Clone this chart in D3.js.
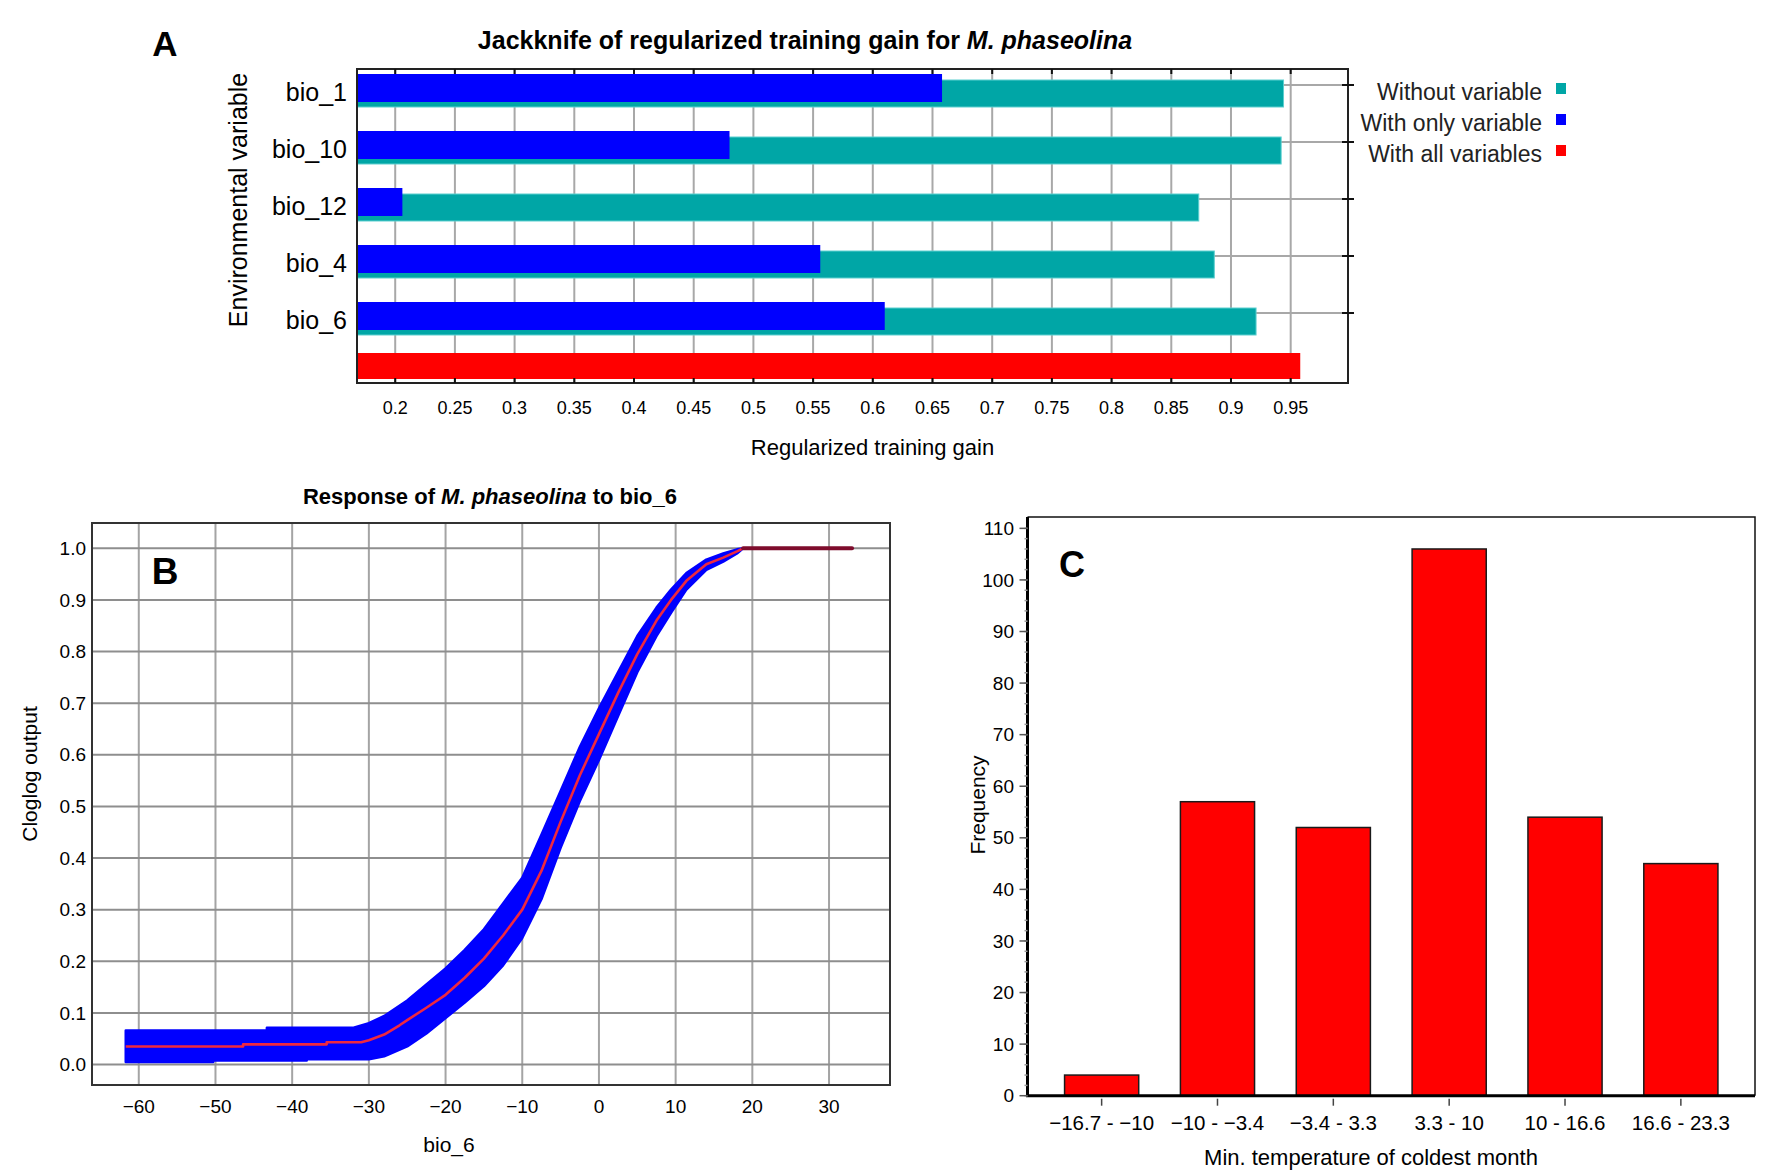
<!DOCTYPE html>
<html>
<head>
<meta charset="utf-8">
<script src="https://cdn.jsdelivr.net/npm/d3@7"></script>
<style>
  body { margin: 0; background: #fff; }
  svg { display: block; font-family: "Liberation Sans", Arial, sans-serif; }
</style>
</head>
<body>
<div id="chart"></div>
<script>
// ---- panel A : jackknife ----
const jkVars = ["bio_1", "bio_10", "bio_12", "bio_4", "bio_6"];
const gainWithout = [0.944, 0.942, 0.873, 0.886, 0.921];
const gainOnly = [0.658, 0.480, 0.206, 0.556, 0.610];
const gainAll = 0.958;
const gainTicks = [0.2, 0.25, 0.3, 0.35, 0.4, 0.45, 0.5, 0.55, 0.6, 0.65, 0.7, 0.75, 0.8, 0.85, 0.9, 0.95];
const legendLabels = ["Without variable", "With only variable", "With all variables"];

// ---- panel B : response curve (mean, mean +/- sd) ----
const respMean = [[-61.7,0.035],[-46.4,0.035],[-46.4,0.039],[-35.5,0.039],[-35.5,0.043],[-31,0.043],
  [-30,0.047],[-28,0.058],[-26,0.076],[-25,0.086],[-22.5,0.11],[-20,0.135],[-17.5,0.168],[-15,0.205],
  [-12.5,0.25],[-10,0.30],[-7.5,0.375],[-5,0.47],[-2.5,0.56],[0,0.64],[2.5,0.72],[5,0.795],[7.5,0.86],
  [9.4,0.90],[11.4,0.937],[14,0.969],[16.2,0.982],[18,0.994],[18.8,1.0],[33,1.0]];
const respUpper = [[-61.7,0.066],[-43.3,0.066],[-43.3,0.071],[-32.1,0.071],[-30,0.08],[-28,0.094],
  [-25,0.124],[-22.5,0.155],[-20,0.186],[-17.5,0.222],[-15,0.262],[-12.5,0.312],[-10,0.362],
  [-7.5,0.445],[-5,0.53],[-2.5,0.615],[0,0.69],[2.5,0.76],[5,0.83],[7.5,0.885],[9.4,0.92],
  [11.4,0.952],[14,0.978],[16.2,0.99],[18,0.998],[18.8,1.0],[33,1.0]];
const respLower = [[-61.7,0.005],[-50.3,0.005],[-50.3,0.008],[-38.1,0.008],[-38.1,0.010],[-30,0.010],
  [-28,0.016],[-25,0.035],[-22.5,0.06],[-20,0.09],[-17.5,0.12],[-15,0.152],[-12.5,0.192],[-10,0.245],
  [-7.5,0.32],[-5,0.42],[-2.5,0.51],[0,0.59],[2.5,0.675],[5,0.76],[7.5,0.83],[9.4,0.875],
  [11.4,0.92],[14,0.958],[16.2,0.974],[18,0.99],[18.8,1.0]];
const bioTicks = [-60, -50, -40, -30, -20, -10, 0, 10, 20, 30];
const clogTicks = [0, 0.1, 0.2, 0.3, 0.4, 0.5, 0.6, 0.7, 0.8, 0.9, 1.0];

// ---- panel C : histogram ----
const tempBins = ["\u221216.7 - \u221210", "\u221210 - \u22123.4", "\u22123.4 - 3.3", "3.3 - 10", "10 - 16.6", "16.6 - 23.3"];
const freq = [4, 57, 52, 106, 54, 45];
const freqTicks = d3.range(0, 111, 10);
const freqMinor = d3.range(0, 111, 2);

const W = 1772, H = 1173;
const svg = d3.select("#chart").append("svg")
  .attr("width", W).attr("height", H)
  .attr("viewBox", [0, 0, W, H]);

/* ================= A ================= */
const aBox = { x0: 357, x1: 1348, y0: 69, y1: 383 };
const xA = d3.scaleLinear().domain([0.168, 0.998]).range([aBox.x0, aBox.x1]);
const yA = d3.scaleBand().domain([...jkVars, "all"]).range([62.5, 404.5]);
const colA = { without: "#00a6a6", only: "#0000ff", all: "#ff0000" };

const gA = svg.append("g");

gA.append("g").selectAll("line").data(gainTicks).join("line")
  .attr("x1", d => xA(d)).attr("x2", d => xA(d))
  .attr("y1", aBox.y0).attr("y2", aBox.y1)
  .attr("stroke", "#a8a8a8").attr("stroke-width", 2);

gA.append("g").selectAll("line").data(jkVars).join("line")
  .attr("x1", aBox.x0).attr("x2", aBox.x1)
  .attr("y1", d => yA(d) + 22.5).attr("y2", d => yA(d) + 22.5)
  .attr("stroke", "#a8a8a8").attr("stroke-width", 2);

gA.append("g").selectAll("rect").data(jkVars).join("rect")
  .attr("x", aBox.x0).attr("y", d => yA(d) + 17.5)
  .attr("width", (d, i) => xA(gainWithout[i]) - aBox.x0).attr("height", 27)
  .attr("fill", colA.without).attr("stroke", "#5ccfcf").attr("stroke-width", 1);

gA.append("g").selectAll("rect").data(jkVars).join("rect")
  .attr("x", aBox.x0).attr("y", d => yA(d) + 11.5)
  .attr("width", (d, i) => xA(gainOnly[i]) - aBox.x0).attr("height", 28)
  .attr("fill", colA.only);

gA.append("rect")
  .attr("x", aBox.x0).attr("y", yA("all") + 5.5)
  .attr("width", xA(gainAll) - aBox.x0).attr("height", 26)
  .attr("fill", colA.all);

gA.append("rect")
  .attr("x", aBox.x0).attr("y", aBox.y0)
  .attr("width", aBox.x1 - aBox.x0).attr("height", aBox.y1 - aBox.y0)
  .attr("fill", "none").attr("stroke", "#222").attr("stroke-width", 2);

// small ticks on top / bottom / right edges
gA.append("g").selectAll("path").data(gainTicks).join("path")
  .attr("d", d => `M${xA(d)},${aBox.y0}v5M${xA(d)},${aBox.y1}v-5`)
  .attr("stroke", "#111").attr("stroke-width", 2);
gA.append("g").selectAll("line").data(jkVars).join("line")
  .attr("x1", aBox.x1 - 6).attr("x2", aBox.x1 + 6)
  .attr("y1", d => yA(d) + 22.5).attr("y2", d => yA(d) + 22.5)
  .attr("stroke", "#111").attr("stroke-width", 2);

gA.append("g").selectAll("text").data(gainTicks).join("text")
  .attr("x", d => xA(d)).attr("y", 414)
  .attr("text-anchor", "middle").attr("font-size", 18)
  .text(d => String(+d.toFixed(2)));

gA.append("g").selectAll("text").data(jkVars).join("text")
  .attr("x", 347).attr("y", d => yA(d) + 30).attr("dy", "0.35em")
  .attr("text-anchor", "end").attr("font-size", 25)
  .text(d => d);

gA.append("text")
  .attr("transform", "translate(238,200) rotate(-90)").attr("dy", "0.35em")
  .attr("text-anchor", "middle").attr("font-size", 25)
  .text("Environmental variable");

gA.append("text")
  .attr("x", (aBox.x0 + aBox.x1) / 2 + 20).attr("y", 455)
  .attr("text-anchor", "middle").attr("font-size", 22)
  .text("Regularized training gain");

const titleA = gA.append("text")
  .attr("x", 805).attr("y", 49)
  .attr("text-anchor", "middle").attr("font-size", 25).attr("font-weight", "bold");
titleA.append("tspan").text("Jackknife of regularized training gain for ");
titleA.append("tspan").attr("font-style", "italic").text("M. phaseolina");

gA.append("text").attr("x", 165).attr("y", 56)
  .attr("text-anchor", "middle").attr("font-size", 35).attr("font-weight", "bold").text("A");

const legCols = [colA.without, colA.only, colA.all];
const leg = gA.append("g").selectAll("g").data(legendLabels).join("g")
  .attr("transform", (d, i) => `translate(0,${92 + i * 31})`);
leg.append("text").attr("x", 1542).attr("dy", "0.35em")
  .attr("text-anchor", "end").attr("font-size", 23).attr("fill", "#222").text(d => d);
leg.append("rect").attr("x", 1556).attr("y", -9).attr("width", 10).attr("height", 11)
  .attr("fill", (d, i) => legCols[i]);

/* ================= B ================= */
const bBox = { x0: 92, x1: 890, y0: 523, y1: 1085 };
const xB = d3.scaleLinear().domain([-66.1, 37.95]).range([bBox.x0, bBox.x1]);
const yB = d3.scaleLinear().domain([-0.0397, 1.049]).range([bBox.y1, bBox.y0]);
const gB = svg.append("g");

gB.append("g").selectAll("line").data(bioTicks).join("line")
  .attr("x1", d => xB(d)).attr("x2", d => xB(d))
  .attr("y1", bBox.y0).attr("y2", bBox.y1)
  .attr("stroke", "#a4a4a4").attr("stroke-width", 2);
gB.append("g").selectAll("line").data(clogTicks).join("line")
  .attr("x1", bBox.x0).attr("x2", bBox.x1)
  .attr("y1", d => yB(d)).attr("y2", d => yB(d))
  .attr("stroke", "#8e8e8e").attr("stroke-width", 2);

const lineB = d3.line().x(d => xB(d[0])).y(d => yB(d[1]));
gB.append("path")
  .attr("d", lineB(respUpper.concat(respLower.slice().reverse())) + "Z")
  .attr("fill", "#0000ff").attr("stroke", "#0000ff").attr("stroke-width", 2.5)
  .attr("stroke-linejoin", "round");
gB.append("path")
  .attr("d", lineB(respMean))
  .attr("fill", "none").attr("stroke", "#ee2840").attr("stroke-width", 2.6)
  .attr("stroke-linejoin", "round");
// where the band has collapsed (last lower point onwards) the curve shows dark red
const collapseX = respLower[respLower.length - 1][0];
gB.append("path")
  .attr("d", lineB(respMean.filter(d => d[0] >= collapseX)))
  .attr("fill", "none").attr("stroke", "#7e0c2c").attr("stroke-width", 4)
  .attr("stroke-linecap", "round");

gB.append("rect")
  .attr("x", bBox.x0).attr("y", bBox.y0)
  .attr("width", bBox.x1 - bBox.x0).attr("height", bBox.y1 - bBox.y0)
  .attr("fill", "none").attr("stroke", "#333").attr("stroke-width", 2);

gB.append("g").selectAll("text").data(bioTicks).join("text")
  .attr("x", d => xB(d)).attr("y", 1113)
  .attr("text-anchor", "middle").attr("font-size", 19)
  .text(d => d3.format("d")(d));
gB.append("g").selectAll("text").data(clogTicks).join("text")
  .attr("x", 86).attr("y", d => yB(d)).attr("dy", "0.35em")
  .attr("text-anchor", "end").attr("font-size", 19)
  .text(d => d3.format(".1f")(d));

const titleB = gB.append("text")
  .attr("x", 490).attr("y", 504)
  .attr("text-anchor", "middle").attr("font-size", 22).attr("font-weight", "bold");
titleB.append("tspan").text("Response of ");
titleB.append("tspan").attr("font-style", "italic").text("M. phaseolina");
titleB.append("tspan").text(" to bio_6");

gB.append("text").attr("x", 165).attr("y", 584)
  .attr("text-anchor", "middle").attr("font-size", 37).attr("font-weight", "bold").text("B");
gB.append("text").attr("x", 449).attr("y", 1152)
  .attr("text-anchor", "middle").attr("font-size", 21).text("bio_6");
gB.append("text")
  .attr("transform", "translate(30,774) rotate(-90)").attr("dy", "0.35em")
  .attr("text-anchor", "middle").attr("font-size", 21).text("Cloglog output");

/* ================= C ================= */
const cBox = { x0: 1027.5, x1: 1755, y0: 517, y1: 1095.7 };
const xC = d3.scaleBand().domain(tempBins).range([cBox.x0, cBox.x1])
  .paddingInner(0.36).paddingOuter(0.32);
const yC = d3.scaleLinear().domain([0, 112.2]).range([cBox.y1, cBox.y0]);
const gC = svg.append("g");

gC.append("g").selectAll("rect").data(tempBins).join("rect")
  .attr("x", d => xC(d)).attr("width", xC.bandwidth())
  .attr("y", (d, i) => yC(freq[i])).attr("height", (d, i) => yC(0) - yC(freq[i]))
  .attr("fill", "#ff0000").attr("stroke", "#1a1a1a").attr("stroke-width", 1.5);

gC.append("path")
  .attr("d", `M${cBox.x0},${cBox.y0}H${cBox.x1}V${cBox.y1}`)
  .attr("fill", "none").attr("stroke", "#111").attr("stroke-width", 1.5);
gC.append("path")
  .attr("d", `M${cBox.x0},${cBox.y0}V${cBox.y1}H${cBox.x1}`)
  .attr("fill", "none").attr("stroke", "#000").attr("stroke-width", 3);

gC.append("g").selectAll("line").data(freqMinor).join("line")
  .attr("x1", cBox.x0 - 3).attr("x2", cBox.x0)
  .attr("y1", d => yC(d)).attr("y2", d => yC(d))
  .attr("stroke", "#999").attr("stroke-width", 1.5);
gC.append("g").selectAll("line").data(freqTicks).join("line")
  .attr("x1", cBox.x0 - 8).attr("x2", cBox.x0)
  .attr("y1", d => yC(d)).attr("y2", d => yC(d))
  .attr("stroke", "#555").attr("stroke-width", 1.5);
gC.append("g").selectAll("text").data(freqTicks).join("text")
  .attr("x", 1014).attr("y", d => yC(d)).attr("dy", "0.35em")
  .attr("text-anchor", "end").attr("font-size", 19).text(d => d);

gC.append("g").selectAll("line").data(tempBins).join("line")
  .attr("x1", d => xC(d) + xC.bandwidth() / 2).attr("x2", d => xC(d) + xC.bandwidth() / 2)
  .attr("y1", cBox.y1 + 3).attr("y2", cBox.y1 + 10)
  .attr("stroke", "#444").attr("stroke-width", 1.5);
gC.append("g").selectAll("text").data(tempBins).join("text")
  .attr("x", d => xC(d) + xC.bandwidth() / 2).attr("y", 1130)
  .attr("text-anchor", "middle").attr("font-size", 20.5).text(d => d);

gC.append("text").attr("x", 1072).attr("y", 577)
  .attr("text-anchor", "middle").attr("font-size", 36).attr("font-weight", "bold").text("C");
gC.append("text").attr("x", 1371).attr("y", 1165)
  .attr("text-anchor", "middle").attr("font-size", 22).text("Min. temperature of coldest month");
gC.append("text")
  .attr("transform", "translate(978,805) rotate(-90)").attr("dy", "0.35em")
  .attr("text-anchor", "middle").attr("font-size", 21).text("Frequency");
</script>
</body>
</html>
